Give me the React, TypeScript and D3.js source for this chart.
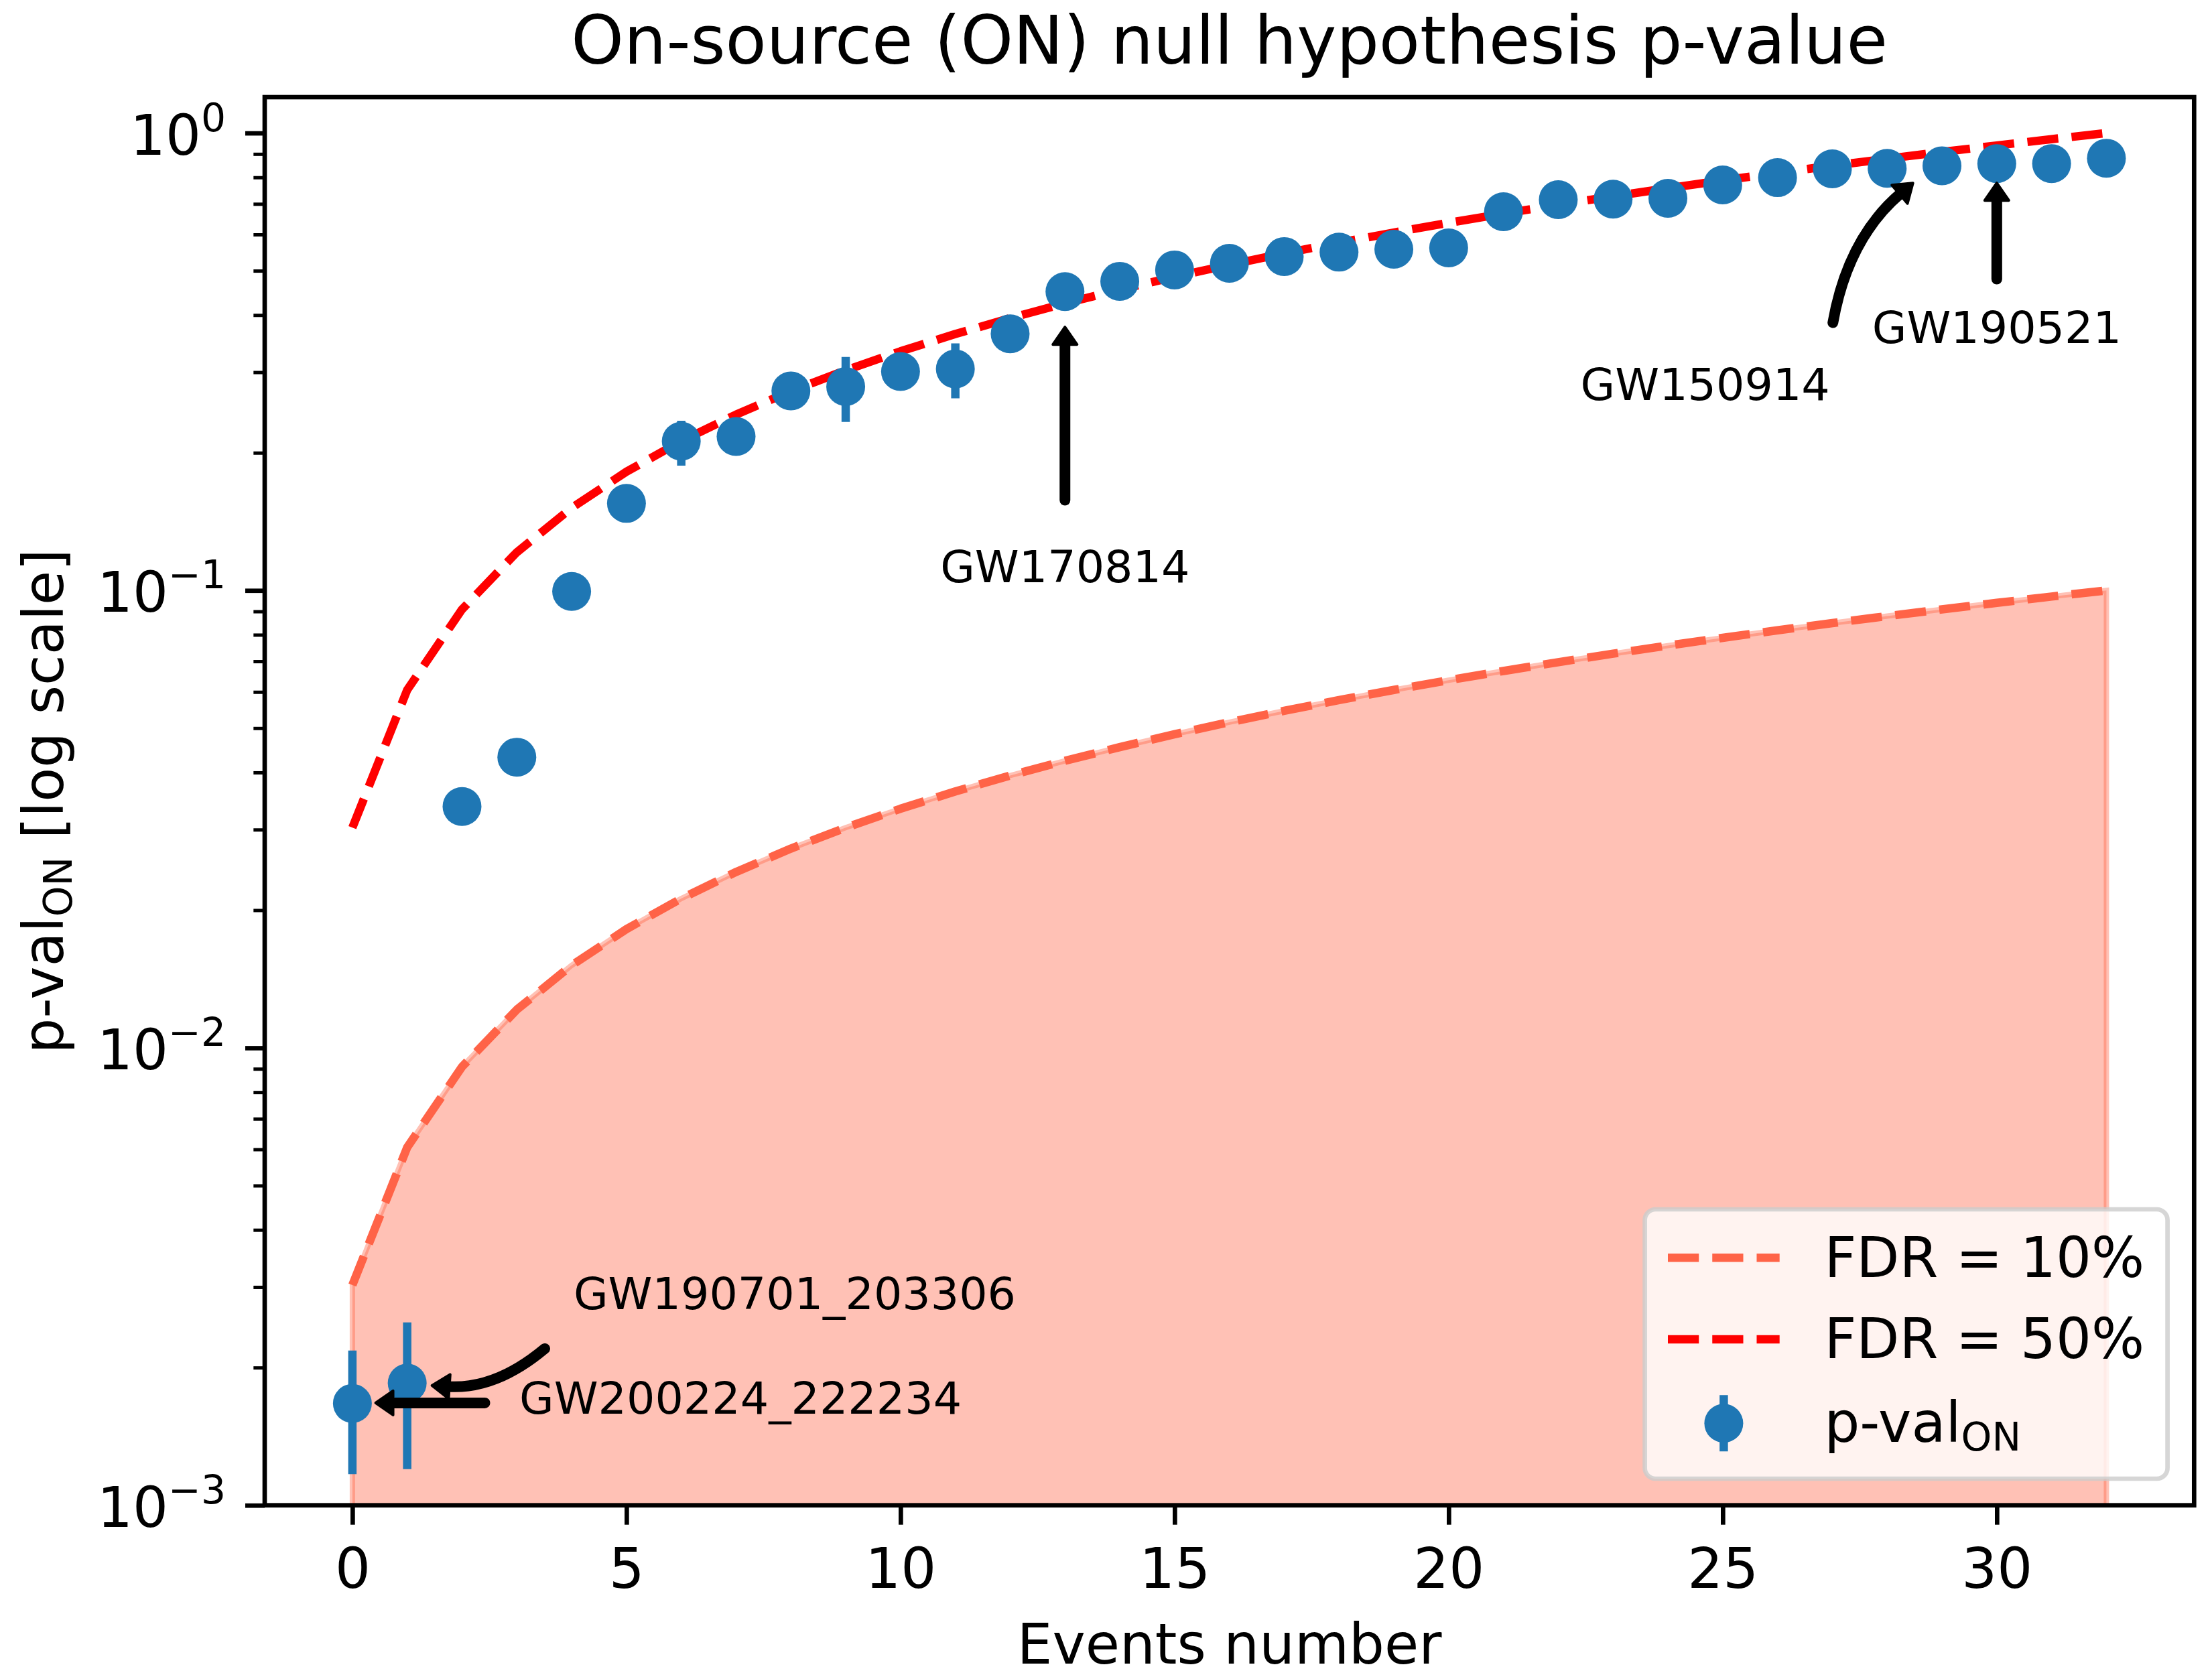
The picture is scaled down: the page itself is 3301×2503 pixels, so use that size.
import { useEffect, useRef } from 'react'
import * as d3 from 'd3'

// p-values of the on-source events, sorted
const pValues = [
    0.00167, 0.00185, 0.0337, 0.0432, 0.0995, 0.155, 0.212, 0.217, 0.273, 0.279, 0.301,
    0.305, 0.364, 0.45, 0.474, 0.502, 0.519, 0.537, 0.549, 0.557, 0.561, 0.673, 0.715,
    0.717, 0.72, 0.77, 0.799, 0.835, 0.837, 0.848, 0.857, 0.857, 0.881,
]
// error bar ends (only a few stick out of the markers)
const errLow = [
    0.00117, 0.0012, 0.0337, 0.0432, 0.0995, 0.155, 0.1875, 0.217, 0.273, 0.2335, 0.301,
    0.263, 0.364, 0.45, 0.474, 0.502, 0.519, 0.537, 0.549, 0.557, 0.561, 0.673, 0.715,
    0.717, 0.72, 0.77, 0.799, 0.835, 0.837, 0.848, 0.857, 0.857, 0.881,
]
const errHigh = [
    0.00218, 0.00251, 0.0337, 0.0432, 0.0995, 0.155, 0.235, 0.217, 0.273, 0.324, 0.301,
    0.347, 0.364, 0.45, 0.474, 0.502, 0.519, 0.537, 0.549, 0.557, 0.561, 0.673, 0.715,
    0.717, 0.72, 0.77, 0.799, 0.835, 0.837, 0.848, 0.857, 0.857, 0.881,
]
const fdr10 = [
    0.00303, 0.00606, 0.00909, 0.01212, 0.01515, 0.01818, 0.02121, 0.02424, 0.02727, 0.0303,
    0.03333, 0.03636, 0.03939, 0.04242, 0.04545, 0.04848, 0.05152, 0.05455, 0.05758, 0.06061,
    0.06364, 0.06667, 0.0697, 0.07273, 0.07576, 0.07879, 0.08182, 0.08485, 0.08788, 0.09091,
    0.09394, 0.09697, 0.1,
]
const fdr50 = [
    0.0303, 0.0606, 0.0909, 0.1212, 0.1515, 0.1818, 0.2121, 0.2424, 0.2727, 0.303, 0.3333,
    0.3636, 0.3939, 0.4242, 0.4545, 0.4848, 0.5152, 0.5455, 0.5758, 0.6061, 0.6364, 0.6667,
    0.697, 0.7273, 0.7576, 0.7879, 0.8182, 0.8485, 0.8788, 0.9091, 0.9394, 0.9697, 1.0,
]

const xTicks = [0, 5, 10, 15, 20, 25, 30]
const yTicks = [1e-3, 1e-2, 1e-1, 1]
const yTickExps = ['\u22123', '\u22122', '\u22121', '0']
const legendLabels = ['FDR = 10%', 'FDR = 50%', 'p-val']

// annotation text / arrow positions in data coordinates
const annotations = [
    { label: 'GW170814', text: [13, 0.1043], from: [13, 0.1575], to: [13, 0.3765], rad: 0 },
    { label: 'GW150914', text: [24.68, 0.261], from: [27.01, 0.385], to: [28.47, 0.7776], rad: 0.18 },
    { label: 'GW190521', text: [30, 0.348], from: [30, 0.4794], to: [30, 0.7776], rad: 0 },
    { label: 'GW190701_203306', text: [8.07, 0.002685], from: [3.51, 0.0022], to: [1.452, 0.001828], rad: 0.2 },
    { label: 'GW200224_222234', text: [7.08, 0.001586], from: [2.416, 0.001674], to: [0.424, 0.001674], rad: 0 },
]

const W = 3301
const H = 2503
const left = 395
const right = 3274.3
const top = 145
const bottom = 2246.7
const font = 'DejaVu Sans'
const blue = '#1f77b4'
const tomato = '#ff6347'

const Chart = () => {
    const ref = useRef<SVGSVGElement | null>(null)

    useEffect(() => {
        if (!ref.current) return
        const svg = d3.select(ref.current)
        svg.selectAll('*').remove()

        const x = d3.scaleLinear().domain([-1.6, 33.6]).range([left, right])
        const y = d3.scaleLog().domain([1e-3, 1.198]).range([bottom, top])
        const idx = pValues.map((_, i) => i)

        svg.append('rect').attr('width', W).attr('height', H).attr('fill', 'white')

        svg.append('defs')
            .append('clipPath')
            .attr('id', 'plotclip')
            .append('rect')
            .attr('x', left)
            .attr('y', top)
            .attr('width', right - left)
            .attr('height', bottom - top)

        const plot = svg.append('g').attr('clip-path', 'url(#plotclip)')

        // shaded area under the 10% line
        const area = d3
            .area<number>()
            .x((_, i) => x(i))
            .y0(bottom + 30)
            .y1(d => y(d))
        plot.append('path')
            .attr('d', area(fdr10))
            .attr('fill', tomato)
            .attr('fill-opacity', 0.4)
            .attr('stroke', tomato)
            .attr('stroke-opacity', 0.4)
            .attr('stroke-width', 8)

        const line = d3
            .line<number>()
            .x((_, i) => x(i))
            .y(d => y(d))
        const lines = [
            { data: fdr10, color: tomato },
            { data: fdr50, color: 'red' },
        ]
        lines.forEach(l => {
            plot.append('path')
                .attr('d', line(l.data))
                .attr('fill', 'none')
                .attr('stroke', l.color)
                .attr('stroke-width', 12.5)
                .attr('stroke-dasharray', '46.25,20')
                .attr('stroke-linejoin', 'round')
        })

        // error bars + points
        plot.selectAll('line.err')
            .data(idx)
            .join('line')
            .attr('class', 'err')
            .attr('x1', i => x(i))
            .attr('x2', i => x(i))
            .attr('y1', i => y(errLow[i]))
            .attr('y2', i => y(errHigh[i]))
            .attr('stroke', blue)
            .attr('stroke-width', 12.5)
        plot.selectAll('circle')
            .data(idx)
            .join('circle')
            .attr('cx', i => x(i))
            .attr('cy', i => y(pValues[i]))
            .attr('r', 29)
            .attr('fill', blue)

        // axes
        const xAxis = svg
            .append('g')
            .attr('transform', `translate(0,${bottom})`)
            .call(d3.axisBottom(x).tickValues(xTicks).tickSize(29).tickPadding(35).tickFormat(d3.format('d')))
        xAxis.select('.domain').remove()
        xAxis.selectAll('line').attr('stroke-width', 6.67)
        xAxis.selectAll('text').attr('font-size', 83.3).attr('font-family', font).attr('fill', 'black')

        const minors: number[] = []
        ;[1e-3, 1e-2, 1e-1].forEach(p => {
            for (let k = 2; k <= 9; k++) minors.push(p * k)
        })
        const yMinor = svg
            .append('g')
            .attr('transform', `translate(${left},0)`)
            .call(d3.axisLeft(y).tickValues(minors).tickSize(16.7).tickFormat(() => ''))
        yMinor.select('.domain').remove()
        yMinor.selectAll('line').attr('stroke-width', 5)

        const yMajor = svg
            .append('g')
            .attr('transform', `translate(${left},0)`)
            .call(d3.axisLeft(y).tickValues(yTicks).tickSize(29).tickFormat(() => ''))
        yMajor.select('.domain').remove()
        yMajor.selectAll('line').attr('stroke-width', 6.67)

        yTicks.forEach((t, i) => {
            const txt = svg
                .append('text')
                .attr('x', 337)
                .attr('y', y(t) + 32)
                .attr('text-anchor', 'end')
                .attr('font-family', font)
                .attr('font-size', 83.3)
            txt.append('tspan').text('10')
            txt.append('tspan').attr('dy', -35).attr('font-size', 58.3).text(yTickExps[i])
        })

        // spines
        svg.append('rect')
            .attr('x', left)
            .attr('y', top)
            .attr('width', right - left)
            .attr('height', bottom - top)
            .attr('fill', 'none')
            .attr('stroke', 'black')
            .attr('stroke-width', 6.67)

        // title and axis labels
        const cx = (left + right) / 2
        svg.append('text')
            .attr('x', cx)
            .attr('y', 95)
            .attr('text-anchor', 'middle')
            .attr('font-family', font)
            .attr('font-size', 100)
            .text('On-source (ON) null hypothesis p-value')
        svg.append('text')
            .attr('x', cx)
            .attr('y', 2483)
            .attr('text-anchor', 'middle')
            .attr('font-family', font)
            .attr('font-size', 83.3)
            .text('Events number')
        const cy = (top + bottom) / 2
        const yl = svg
            .append('text')
            .attr('x', 94)
            .attr('y', cy)
            .attr('transform', `rotate(-90,94,${cy})`)
            .attr('text-anchor', 'middle')
            .attr('font-family', font)
            .attr('font-size', 83.3)
        yl.append('tspan').text('p-val')
        yl.append('tspan').attr('dy', 13.5).attr('font-size', 58.3).text('ON')
        yl.append('tspan').attr('dy', -13.5).text(' [log scale]')

        // annotations
        const ann = svg.append('g')
        annotations.forEach(a => {
            const p0 = [x(a.from[0]), y(a.from[1])]
            const p2 = [x(a.to[0]), y(a.to[1])]
            const dx = p2[0] - p0[0]
            const dy = p2[1] - p0[1]
            const c = [(p0[0] + p2[0]) / 2 + a.rad * dy, (p0[1] + p2[1]) / 2 - a.rad * dx]
            const tx = p2[0] - c[0]
            const ty = p2[1] - c[1]
            const tl = Math.hypot(tx, ty)
            const ux = tx / tl
            const uy = ty / tl
            const hl = 26
            const hw = 18
            const b = [p2[0] - ux * hl, p2[1] - uy * hl]
            const path = d3.path()
            path.moveTo(p0[0], p0[1])
            path.quadraticCurveTo(c[0], c[1], b[0] + ux * 2, b[1] + uy * 2)
            ann.append('path')
                .attr('d', path.toString())
                .attr('fill', 'none')
                .attr('stroke', 'black')
                .attr('stroke-width', 16)
                .attr('stroke-linecap', 'round')
            const pts = [
                [p2[0], p2[1]],
                [b[0] - uy * hw, b[1] + ux * hw],
                [b[0] + uy * hw, b[1] - ux * hw],
            ]
            ann.append('polygon')
                .attr('points', pts.map(p => p.join(',')).join(' '))
                .attr('fill', 'black')
                .attr('stroke', 'black')
                .attr('stroke-width', 4)
                .attr('stroke-linejoin', 'round')
            ann.append('text')
                .attr('x', x(a.text[0]))
                .attr('y', y(a.text[1]))
                .attr('text-anchor', 'middle')
                .attr('font-family', font)
                .attr('font-size', 66.7)
                .text(a.label)
        })

        // legend
        const lg = svg.append('g')
        lg.append('rect')
            .attr('x', 2454.6)
            .attr('y', 1805)
            .attr('width', 780)
            .attr('height', 402)
            .attr('rx', 16)
            .attr('fill', 'white')
            .attr('fill-opacity', 0.8)
            .attr('stroke', '#cccccc')
            .attr('stroke-opacity', 0.8)
            .attr('stroke-width', 6.67)
        const rowY = [1877.3, 1999, 2124.3]
        const baseY = [1906, 2027, 2151.7]
        ;[tomato, 'red'].forEach((col, i) => {
            lg.append('line')
                .attr('x1', 2489)
                .attr('x2', 2655.7)
                .attr('y1', rowY[i])
                .attr('y2', rowY[i])
                .attr('stroke', col)
                .attr('stroke-width', 12.5)
                .attr('stroke-dasharray', '46.25,20')
        })
        lg.append('line')
            .attr('x1', 2572.4)
            .attr('x2', 2572.4)
            .attr('y1', rowY[2] - 42)
            .attr('y2', rowY[2] + 42)
            .attr('stroke', blue)
            .attr('stroke-width', 12.5)
        lg.append('circle').attr('cx', 2572.4).attr('cy', rowY[2]).attr('r', 29).attr('fill', blue)
        legendLabels.forEach((lab, i) => {
            const t = lg
                .append('text')
                .attr('x', 2722.4)
                .attr('y', baseY[i])
                .attr('font-family', font)
                .attr('font-size', 83.3)
            t.append('tspan').text(lab)
            if (i === 2) t.append('tspan').attr('dy', 13.3).attr('font-size', 58.3).text('ON')
        })
    }, [])

    return (
        <svg
            ref={ref}
            width={W}
            height={H}
            style={{ position: 'absolute', left: 0, top: 0 }}
        ></svg>
    )
}

export default function App() {
    return <Chart />
}
